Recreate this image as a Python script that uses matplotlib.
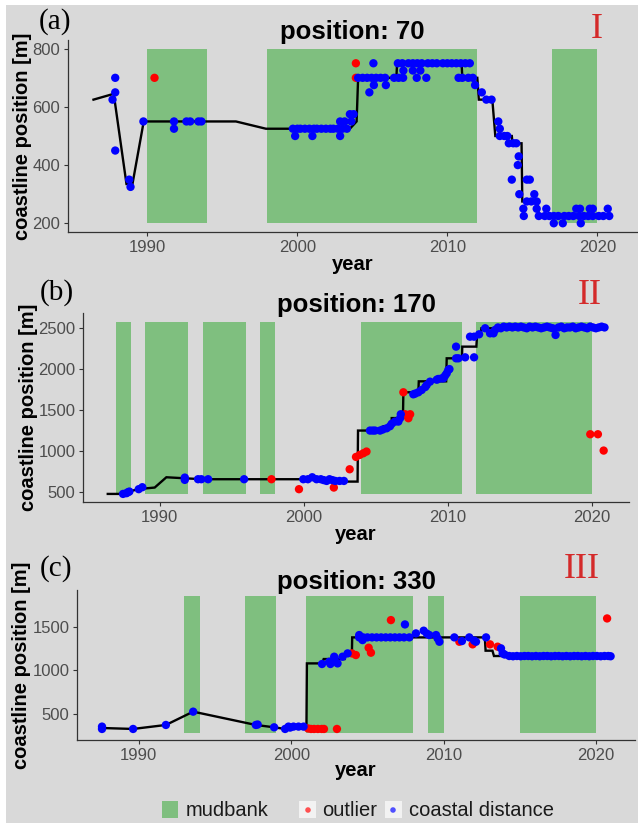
import matplotlib
matplotlib.use('Agg')
import matplotlib.pyplot as plt
from matplotlib.patches import Rectangle

plt.rcParams['font.family'] = ['Liberation Sans', 'DejaVu Sans']

# ---- panel (a): position 70 ----
a_blue_year = [1987.67, 1987.85, 1987.85, 1987.85, 1988.78, 1988.87, 1989.73, 1991.77, 1991.77,
               1992.6, 1992.85, 1993.4, 1993.6,
               1999.7, 2000.0, 2000.2, 2000.5, 2000.8, 2001.1, 2001.3, 2001.6, 2001.9, 2002.2,
               2002.4, 2002.7, 2003.0, 1999.85, 2001.0, 2002.85,
               2002.85, 2003.15, 2003.3, 2003.5, 2003.75, 2003.6,
               2004.05, 2004.35, 2004.65, 2004.95, 2005.25, 2005.55, 2005.85, 2006.45, 2006.75, 2007.05,
               2005.07, 2005.1, 2005.9, 2004.8,
               2006.7, 2007.0, 2007.4, 2007.7, 2008.0, 2008.3, 2008.7, 2009.0, 2009.3, 2009.7,
               2010.0, 2010.3, 2010.6, 2010.9, 2011.2, 2011.5,
               2007.07, 2007.7, 2008.2, 2007.96, 2008.6,
               2010.75, 2011.0, 2011.4, 2011.7, 2011.85, 2012.3, 2012.6, 2012.95,
               2013.4, 2013.5, 2013.5, 2013.8, 2014.0, 2014.1, 2014.4, 2014.6,
               2014.76, 2014.7, 2014.3, 2015.3, 2015.5, 2014.8, 2015.8,
               2015.3, 2015.6, 2015.96, 2015.07, 2015.96, 2016.6,
               2015.1, 2016.1, 2016.5, 2016.8, 2017.1, 2017.4, 2017.8, 2018.1, 2018.4, 2018.8,
               2019.1, 2019.4, 2019.7, 2020.1, 2020.4, 2020.8,
               2017.1, 2017.7, 2018.9, 2018.6, 2018.85, 2019.5, 2019.7, 2020.7]
a_blue_val = [625, 650, 700, 450, 350, 325, 550, 550, 525,
              550, 550, 550, 550,
              525, 525, 525, 525, 525, 525, 525, 525, 525, 525,
              525, 525, 525, 500, 500, 500,
              550, 550, 525, 575, 575, 550,
              700, 700, 700, 700, 700, 700, 700, 700, 700, 700,
              750, 675, 675, 650,
              750, 750, 750, 750, 750, 750, 750, 750, 750, 750,
              750, 750, 750, 750, 750, 750,
              725, 725, 725, 700, 700,
              700, 700, 700, 700, 675, 650, 625, 625,
              550, 525, 500, 500, 500, 475, 475, 475,
              430, 400, 350, 350, 350, 300, 300,
              275, 275, 275, 250, 250, 250,
              225, 225, 225, 225, 225, 225, 225, 225, 225, 225,
              225, 225, 225, 225, 225, 225,
              200, 200, 200, 250, 250, 250, 250, 250]
a_red_year = [1990.47, 2003.9, 2003.9]
a_red_val = [700, 750, 700]
a_line_year = [1986.4, 1987.75, 1988.6, 1989.0, 1989.75, 1995.9, 1997.9, 2003.5, 2003.95, 2004.05,
               2006.6, 2006.65, 2010.95, 2011.0, 2012.0, 2012.1, 2013.0, 2013.2, 2014.3, 2014.35,
               2014.95, 2015.0, 2016.0, 2016.1, 2020.85]
a_line_val = [625, 645, 335, 335, 550, 550, 525, 525, 550, 700,
              700, 750, 750, 700, 700, 625, 625, 500, 500, 475,
              475, 275, 275, 225, 225]
a_mud_start = [1990, 1998, 2017]
a_mud_end = [1994, 2012, 2020]
a_mud_low, a_mud_high = 200, 800

# ---- panel (b): position 170 ----
b_blue_year = [1987.46, 1987.7, 1987.8, 1987.9, 1988.55, 1988.8, 1991.75, 1991.75, 1992.67, 1992.9,
               1993.37, 1995.87, 1999.98, 2000.3, 2000.6, 2000.9, 2001.2, 2001.4, 2001.6, 2001.8,
               2002.0, 2002.2, 2002.5, 2002.8,
               2004.61, 2004.8, 2004.96, 2005.31, 2005.5, 2005.77, 2006.0, 2006.12, 2006.35, 2006.58,
               2006.7, 2006.75,
               2007.62, 2007.75, 2007.97, 2008.2, 2008.45, 2008.55, 2008.78, 2009.25, 2009.36, 2009.6,
               2009.71, 2009.83, 2009.94, 2010.05, 2010.13,
               2010.59, 2010.59, 2010.75, 2011.22, 2011.84, 2011.56, 2011.84, 2012.19,
               2012.61, 2012.95, 2013.19,
               2013.3, 2013.5, 2013.7, 2013.9, 2014.1, 2014.3, 2014.5, 2014.7, 2014.9, 2015.1,
               2015.3, 2015.5, 2015.7, 2015.9, 2016.1, 2016.3, 2016.5, 2016.7, 2016.9, 2017.1,
               2017.3, 2017.7, 2017.9, 2018.1, 2018.3, 2018.5, 2018.7, 2018.9, 2019.1, 2019.3,
               2019.5, 2019.7, 2019.9, 2020.1, 2020.3, 2020.5, 2020.7, 2020.9, 2017.5]
b_blue_val = [471, 480, 492, 500, 529, 553, 671, 643, 651, 651,
              651, 651, 651, 651, 675, 651, 651, 640, 630, 651,
              640, 630, 630, 630,
              1247, 1247, 1247, 1247, 1260, 1275, 1300, 1330, 1357, 1357,
              1398, 1447,
              1691, 1700, 1716, 1744, 1780, 1805, 1846, 1870, 1879, 1887,
              1887, 1920, 1948, 1989, 2000,
              2275, 2132, 2132, 2144, 2144, 2397, 2397, 2426,
              2500, 2438, 2438,
              2480, 2510, 2500, 2520, 2510, 2520, 2510, 2520, 2510, 2520,
              2510, 2500, 2520, 2510, 2520, 2510, 2500, 2510, 2520, 2510,
              2500, 2510, 2520, 2500, 2510, 2510, 2520, 2500, 2510, 2520,
              2510, 2500, 2520, 2510, 2500, 2510, 2520, 2510, 2418]
b_red_year = [1997.77, 1999.68, 2002.1, 2003.2, 2003.64, 2003.9, 2004.15, 2004.37,
              2006.93, 2007.05, 2007.4, 2007.28, 2007.2, 2019.91, 2020.44, 2020.84]
b_red_val = [651, 529, 549, 773, 924, 949, 969, 990,
             1716, 1447, 1447, 1398, 1430, 1202, 1202, 1002]
b_line_year = [1986.4, 1987.35, 1988.5, 1989.66, 1990.47, 1992.0, 1993.0, 2002.0, 2002.05, 2003.75,
               2003.78, 2005.5, 2005.55, 2006.1, 2006.12, 2006.9, 2006.93, 2007.97, 2008.0, 2009.9,
               2009.94, 2011.0, 2011.02, 2012.0, 2012.05, 2012.3, 2012.35, 2020.9]
b_line_val = [471, 471, 530, 549, 675, 660, 651, 651, 622, 622,
              1247, 1247, 1300, 1300, 1400, 1400, 1716, 1716, 1850, 1850,
              2132, 2132, 2275, 2275, 2420, 2430, 2500, 2500]
b_mud_start = [1987, 1989, 1993, 1997, 2004, 2012]
b_mud_end = [1988, 1992, 1996, 1998, 2011, 2020]
b_mud_low, b_mud_high = 470, 2575

# ---- panel (c): position 330 ----
c_blue_year = [1987.59, 1987.59, 1989.63, 1991.78, 1993.57, 1997.68, 1997.8, 1998.88,
               1999.6, 1999.82, 1999.93, 2000.15, 2000.48, 2000.81,
               2002.02, 2002.49, 2002.57, 2002.82, 2002.85, 2003.04, 2003.37, 2003.7,
               2004.46, 2004.68, 2004.46, 2004.72, 2005.0, 2005.3, 2005.6, 2005.9, 2006.2, 2006.5,
               2006.8, 2007.1, 2007.4, 2007.75, 2007.46,
               2008.18, 2008.69, 2008.9, 2009.06, 2009.5, 2009.6, 2009.72,
               2010.7, 2011.2, 2011.68, 2012.0, 2012.12, 2012.78,
               2013.76, 2013.87, 2014.0,
               2014.3, 2014.55, 2014.8, 2015.05, 2015.3, 2015.55, 2015.8, 2016.05, 2016.3, 2016.55,
               2016.8, 2017.05, 2017.3, 2017.55, 2017.8, 2018.05, 2018.3, 2018.55, 2018.8, 2019.05,
               2019.3, 2019.55, 2019.8, 2020.05, 2020.3, 2020.55, 2020.8, 2020.95]
c_blue_val = [351, 324, 324, 370, 523, 370, 375, 343,
              324, 351, 340, 351, 351, 351,
              1071, 1097, 1071, 1155, 1136, 1078, 1155, 1193,
              1404, 1346, 1377, 1377, 1377, 1377, 1377, 1377, 1377, 1377,
              1377, 1377, 1377, 1377, 1526,
              1423, 1454, 1420, 1404, 1404, 1366, 1327,
              1377, 1335, 1377, 1340, 1327, 1377,
              1251, 1193, 1180,
              1163, 1160, 1163, 1160, 1163, 1163, 1160, 1163, 1160, 1163,
              1163, 1160, 1163, 1163, 1160, 1163, 1160, 1163, 1163, 1160,
              1163, 1160, 1163, 1163, 1160, 1163, 1163, 1160]
c_red_year = [2001.1, 2001.3, 2001.5, 2001.75, 2002.0, 2002.15, 2003.0,
              2003.98, 2004.24, 2005.08, 2005.23, 2006.54, 2011.03, 2011.9, 2013.04, 2013.54, 2020.72]
c_red_val = [330, 324, 324, 324, 324, 324, 324,
             1193, 1174, 1258, 1201, 1576, 1327, 1297, 1297, 1270, 1595]
c_line_year = [1987.59, 1989.63, 1991.78, 1993.57, 1997.68, 1998.88, 1999.6, 2000.0, 2001.0, 2001.03,
               2002.02, 2002.13, 2003.5, 2003.55, 2003.98, 2004.0, 2012.7, 2012.75, 2013.2, 2013.3,
               2020.95]
c_line_val = [335, 324, 370, 523, 370, 343, 324, 345, 351, 1078,
              1078, 1128, 1128, 1174, 1174, 1377, 1377, 1224, 1224, 1163,
              1163]
c_mud_start = [1993, 1997, 2001, 2009, 2015]
c_mud_end = [1994, 1999, 2008, 2010, 2020]
c_mud_low, c_mud_high = 275, 1850

x_ticks = [1990, 2000, 2010, 2020]

W, H = 638, 823
BG = '#d9d9d9'
GREEN = '#7fbf7f'


def fx(x):
    return x / W


def fy(y):
    return 1 - y / H


def box(l, t, r, b):
    return [l / W, 1 - b / H, (r - l) / W, (b - t) / H]


fig = plt.figure(figsize=(W / 100, H / 100), dpi=100)
fig.patch.set_facecolor(BG)
# thin white strips along top and left edges
fig.patches.append(Rectangle((0, 1 - 5 / H), 1, 5 / H, transform=fig.transFigure,
                             facecolor='white', edgecolor='none', zorder=0))
fig.patches.append(Rectangle((0, 0), 6 / W, 1, transform=fig.transFigure,
                             facecolor='white', edgecolor='none', zorder=0))

panels = [
    dict(rect=(68, 40, 637, 232), xlim=(1984.7, 2022.65), ylim=(170, 830), yticks=[200, 400, 600, 800],
         blue=(a_blue_year, a_blue_val), red=(a_red_year, a_red_val), line=(a_line_year, a_line_val),
         mud=(a_mud_start, a_mud_end, a_mud_low, a_mud_high), title='position: 70',
         title_y=32, year_y=265, ylab_x=23, tag='(a)', tag_xy=(55, 22), roman='I', roman_xy=(597, 29)),
    dict(rect=(83, 313, 629, 502), xlim=(1984.68, 2022.6), ylim=(372, 2687),
         yticks=[500, 1000, 1500, 2000, 2500],
         blue=(b_blue_year, b_blue_val), red=(b_red_year, b_red_val), line=(b_line_year, b_line_val),
         mud=(b_mud_start, b_mud_end, b_mud_low, b_mud_high), title='position: 170',
         title_y=305, year_y=535, ylab_x=29, tag='(b)', tag_xy=(57, 293), roman='II', roman_xy=(590, 295)),
    dict(rect=(77, 590, 635, 740), xlim=(1985.95, 2022.55), ylim=(197, 1922), yticks=[500, 1000, 1500],
         blue=(c_blue_year, c_blue_val), red=(c_red_year, c_red_val), line=(c_line_year, c_line_val),
         mud=(c_mud_start, c_mud_end, c_mud_low, c_mud_high), title='position: 330',
         title_y=582, year_y=770, ylab_x=22, tag='(c)', tag_xy=(56, 569), roman='III', roman_xy=(582, 569)),
]

for p in panels:
    l, t, r, b = p['rect']
    ax = fig.add_axes(box(l, t, r, b))
    ax.set_facecolor('none')

    starts, ends, low, high = p['mud']
    widths = [e - s for s, e in zip(starts, ends)]
    ax.bar(starts, high - low, bottom=low, width=widths, align='edge', color=GREEN,
           edgecolor='none', zorder=1)
    ax.plot(p['line'][0], p['line'][1], color='black', lw=1.7, zorder=2, solid_joinstyle='miter')
    ax.scatter(p['red'][0], p['red'][1], s=36, color='red', edgecolor='none', zorder=3)
    ax.scatter(p['blue'][0], p['blue'][1], s=36, color='blue', edgecolor='none', zorder=4)

    ax.set_xlim(*p['xlim'])
    ax.set_ylim(*p['ylim'])
    ax.set_xticks(x_ticks)
    ax.set_yticks(p['yticks'])
    for side in ['top', 'right']:
        ax.spines[side].set_visible(False)
    for side in ['left', 'bottom']:
        ax.spines[side].set_color('#333333')
        ax.spines[side].set_linewidth(0.9)
    ax.tick_params(axis='both', length=3, width=0.8, color='#333333', labelsize=12,
                   labelcolor='#4d4d4d', pad=2.5)

    cx = (l + r) / 2
    fig.text(fx(cx), fy(p['title_y']), p['title'], ha='center', va='center',
             fontsize=18.5, fontweight='bold')
    fig.text(fx(cx), fy(p['year_y']), 'year', ha='center', va='center',
             fontsize=14.5, fontweight='bold')
    fig.text(fx(p['ylab_x']), fy((t + b) / 2), 'coastline position [m]', ha='center', va='center',
             rotation=90, fontsize=14.5, fontweight='bold')
    fig.text(fx(p['tag_xy'][0]), fy(p['tag_xy'][1]), p['tag'], ha='center', va='center',
             fontsize=21, family='Liberation Serif')
    fig.text(fx(p['roman_xy'][0]), fy(p['roman_xy'][1]), p['roman'], ha='center', va='center',
             fontsize=26, family='Liberation Serif', color='#d42a2a')

# legend along the bottom
leg = fig.add_axes([0, 0, 1, 1])
leg.set_xlim(0, W)
leg.set_ylim(H, 0)
leg.axis('off')
leg.add_patch(Rectangle((162, 801), 16, 17, facecolor=GREEN, edgecolor='none'))
leg.text(186, 810, 'mudbank', ha='left', va='center', fontsize=14.5, color='#1a1a1a')
leg.add_patch(Rectangle((299, 801), 17, 17, facecolor='#f2f2f2', edgecolor='none'))
leg.scatter([308], [810], s=16, color='#ff5050', edgecolor='none')
leg.text(322, 810, 'outlier', ha='left', va='center', fontsize=14.5, color='#1a1a1a')
leg.add_patch(Rectangle((385, 801), 17, 17, facecolor='#f2f2f2', edgecolor='none'))
leg.scatter([393], [810], s=16, color='#5050ff', edgecolor='none')
leg.text(409, 810, 'coastal distance', ha='left', va='center', fontsize=14.5, color='#1a1a1a')

fig.savefig('out.png', dpi=100, facecolor=fig.get_facecolor())
